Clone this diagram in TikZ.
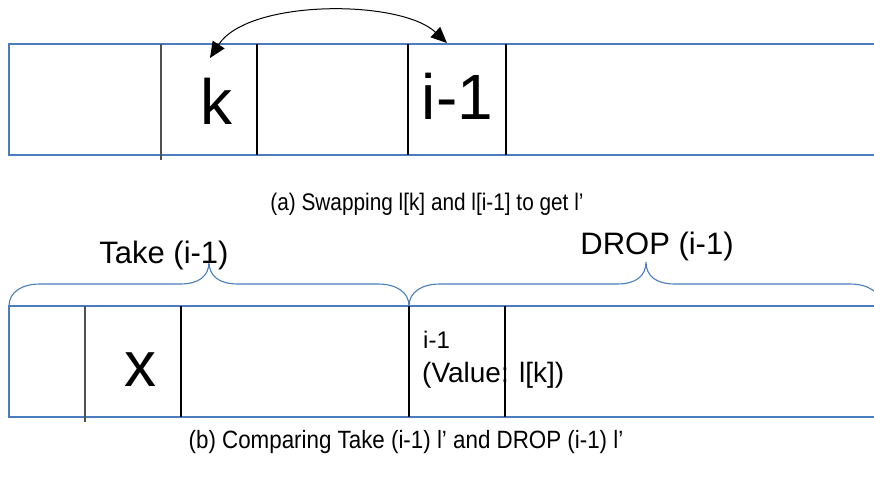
\documentclass[tikz,border=0pt]{standalone}
\usepackage{fontspec}
\setmainfont{Liberation Sans}
\usetikzlibrary{arrows.meta}
\definecolor{cellblue}{RGB}{74,124,190}
\definecolor{divgray}{RGB}{80,80,80}
\tikzset{
  rail/.style={draw=cellblue, line width=1.3pt},
  divider/.style={draw=black, line width=1.1pt},
  softdivider/.style={draw=divgray, line width=1.4pt},
  bracepath/.style={draw=cellblue, line width=1.1pt},
  bigtext/.style={anchor=base, inner sep=0pt, font=\fontsize{64}{64}\selectfont},
  labeltext/.style={anchor=base, inner sep=0pt, font=\fontsize{31}{31}\selectfont},
  captiontext/.style={anchor=base, inner sep=0pt},
  swaparrow/.style={draw=black, line width=1pt,
    {Triangle[length=16pt,width=14pt]}-{Triangle[length=16pt,width=14pt]}},
}
% narrow caption lettering
\newcommand{\narrowcap}[3]{\scalebox{#2}[1]{\fontsize{#1}{#1}\selectfont #3}}
\begin{document}
\begin{tikzpicture}[x=1pt, y=-1pt]
\useasboundingbox (0,0) rectangle (874,479);

% ---- (a) list l before the swap ----
\draw[rail] (874,44) -- (9,44) -- (9,155) -- (874,155);
\draw[softdivider] (161,44) -- (161,160);
\draw[divider] (257,44) -- (257,155);
\draw[divider] (408,44) -- (408,155);
\draw[divider] (506,44) -- (506,155);

\node[bigtext] (kcell) at (216,124) {k};
\node[bigtext] (icell) at (457.5,119) {i-1};

\coordinate (ktip) at (210,58);
\coordinate (itip) at (447,43);
\draw[swaparrow] (ktip) .. controls (248,-1) and (400,-1) .. (itip);

\node[captiontext] (capa) at (427,210) {\narrowcap{24}{0.866}{(a) Swapping l[k] and l[i-1] to get l’}};

% ---- (b) list l' split at i-1 ----
\draw[rail] (874,306) -- (9,306) -- (9,417) -- (874,417);
\draw[softdivider] (85,306) -- (85,422);
\draw[divider] (181,306) -- (181,417);
\draw[divider] (409,306) -- (409,417);
\draw[divider] (505,306) -- (505,417);

% braces over the two halves
\draw[bracepath] (9,306) .. controls (9,292) and (22,284) .. (40,284)
  -- (180,284) .. controls (199,284) and (209,276) .. (209,262)
  .. controls (209,276) and (219,284) .. (238,284)
  -- (378,284) .. controls (396,284) and (409,292) .. (409,306);
\draw[bracepath] (409,306) .. controls (409,292) and (422,284) .. (440,284)
  -- (617,284) .. controls (636,284) and (646,276) .. (646,262)
  .. controls (646,276) and (656,284) .. (675,284)
  -- (850,284) .. controls (868,284) and (881,292) .. (881,306);

\node[labeltext] (take) at (164,263) {Take (i-1)};
\node[labeltext] (drop) at (657,254) {DROP (i-1)};

\node[bigtext] (xcell) at (140,386) {x};
\node[anchor=base west, inner sep=0pt, font=\fontsize{24}{24}\selectfont] (ipos) at (423,348) {i-1};
\node[anchor=base west, inner sep=0pt, font=\fontsize{28}{28}\selectfont] (ival) at (422,382) {(Value: l[k])};

\node[captiontext] (capb) at (406,448) {\narrowcap{25}{0.894}{(b) Comparing Take (i-1) l’ and DROP (i-1) l’}};
\end{tikzpicture}
\end{document}
